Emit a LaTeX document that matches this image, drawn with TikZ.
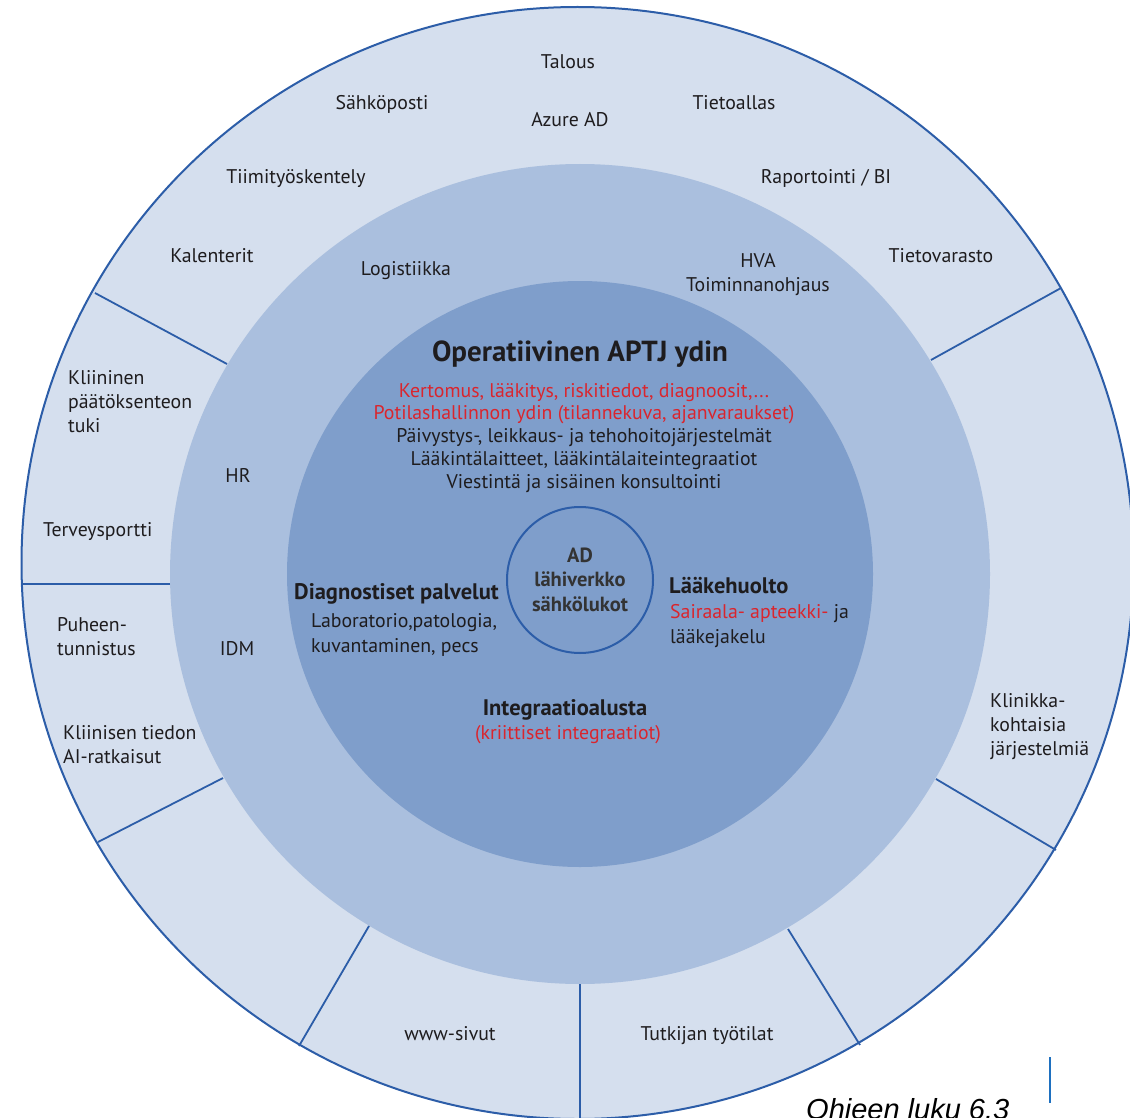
\documentclass[tikz,border=0pt]{standalone}
\usepackage{fontspec}
\setmainfont{PT Sans}
\newfontfamily\notefont{Liberation Sans}
\definecolor{ringlight}{RGB}{213,223,238}
\definecolor{ringmid}{RGB}{170,191,222}
\definecolor{ringcore}{RGB}{127,158,203}
\definecolor{edgeblue}{RGB}{44,93,168}
\definecolor{markblue}{RGB}{30,112,192}
\definecolor{redtext}{RGB}{218,37,45}
\definecolor{darktext}{RGB}{30,28,30}
\begin{document}
\begin{tikzpicture}[x=1pt, y=-1pt,
    lbl/.style={inner sep=0pt, text=darktext, font=\fontsize{19.8}{24}\selectfont},
    lblL/.style={lbl, anchor=base west, align=left},
    lblC/.style={lbl, anchor=base, align=center},
    head/.style={lbl, font=\fontsize{22.5}{24}\selectfont\bfseries},
    spoke/.style={edgeblue, line width=1.8pt}]
        \clip (0,0) rectangle (1130,1118);
        \fill[ringlight, draw=edgeblue, line width=2pt] (577.5,563) circle[radius=556];
        \fill[ringmid] (580,574) circle[radius=410];
        \fill[ringcore] (580,574) circle[radius=293];
        \draw[edgeblue, line width=2pt] (580,580) circle[radius=73];
        \foreach \xa/\ya/\xb/\yb in {227/364/95/293, 170/584/23/584, 223/778/98/842,
            369/926/299/1046, 580/984/580/1120, 788/929/860/1045,
            936/779/1056/850, 931/360/1061/288}
            \draw[spoke] (\xa,\ya) -- (\xb,\yb);
        % outer ring (multi-line nodes sit on their last line)
        \node[lblC] (talous) at (568,69) {Talous};
        \node[lblC] (sahkoposti) at (382,110) {Sähköposti};
        \node[lblC] (azure) at (570,127) {Azure AD};
        \node[lblC] (tietoallas) at (734,110) {Tietoallas};
        \node[lblC] (tiimi) at (296,184) {Tiimityöskentely};
        \node[lblC] (raportointi) at (826,184) {Raportointi / BI};
        \node[lblC] (kalenterit) at (212,262) {Kalenterit};
        \node[lblC] (tietovarasto) at (941,262) {Tietovarasto};
        \node[lblL] (paatos) at (68,432) {Kliininen\\päätöksenteon\\tuki};
        \node[lblL] (terveys) at (43,536) {Terveysportti};
        \node[lblL] (puhe) at (57,655) {Puheen-\\tunnistus};
        \node[lblL] (ai) at (63,763) {Kliinisen tiedon\\AI-ratkaisut};
        \node[lblL] (klinikka) at (990,755) {Klinikka-\\kohtaisia\\järjestelmiä};
        \node[lblC] (www) at (450,1040) {www-sivut};
        \node[lblC] (tutkija) at (707,1040) {Tutkijan työtilat};
        % middle ring
        \node[lblC] (logistiikka) at (406,276) {Logistiikka};
        \node[lblC] (hva) at (758,291) {HVA\\Toiminnanohjaus};
        \node[lblC] (hr) at (238,482) {HR};
        \node[lblC] (idm) at (237,655) {IDM};
        % core
        \node[lbl, anchor=base, font=\fontsize{29}{30}\selectfont\bfseries] (ydin) at (580,361)
            {Operatiivinen APTJ ydin};
        \node[lblC, font=\fontsize{19.8}{22.75}\selectfont] (ydinlista) at (584,488)
            {\textcolor{redtext}{Kertomus, lääkitys, riskitiedot, diagnoosit,...}\\
            \textcolor{redtext}{Potilashallinnon ydin (tilannekuva, ajanvaraukset)}\\
            Päivystys-, leikkaus- ja tehohoitojärjestelmät\\
            Lääkintälaitteet, lääkintälaiteintegraatiot\\
            Viestintä ja sisäinen konsultointi};
        \node[lblC, text=black!80, font=\fontsize{20.5}{24.5}\selectfont\bfseries] (verkko) at (580,611)
            {AD\\lähiverkko\\sähkölukot};
        \node[head, anchor=base west] (diag) at (294,599) {Diagnostiset palvelut};
        \node[lblL, font=\fontsize{19.8}{25}\selectfont] (diaglista) at (311,652)
            {Laboratorio,patologia,\\kuvantaminen, pecs};
        \node[head, anchor=base west] (laake) at (669,593) {Lääkehuolto};
        \node[lblL, font=\fontsize{19.8}{25}\selectfont] (laakelista) at (670,643)
            {\textcolor{redtext}{Sairaala- apteekki-} ja\\lääkejakelu};
        \node[head, anchor=base] (integ) at (565,715) {Integraatioalusta};
        \node[lblC, text=redtext] (kriittiset) at (568,739) {(kriittiset integraatiot)};
        % note
        \draw[markblue, line width=1.5pt] (1050,1057) -- (1050,1103);
        \node[inner sep=0pt, anchor=base west, font=\notefont\itshape\fontsize{29}{32}\selectfont]
            (luku) at (806,1119) {Ohjeen luku 6.3};
\end{tikzpicture}
\end{document}
